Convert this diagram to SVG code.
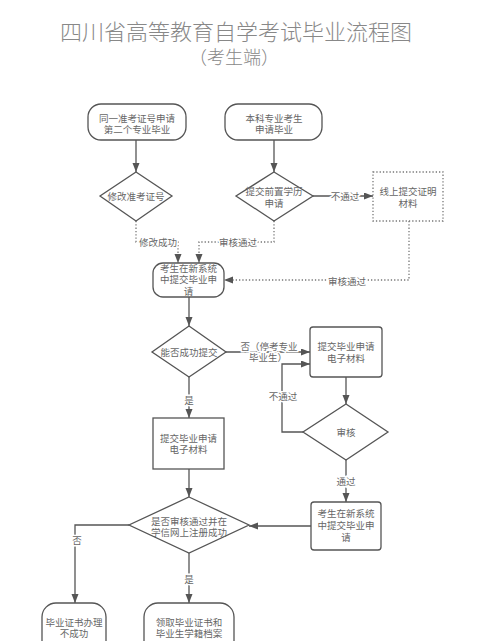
<svg xmlns="http://www.w3.org/2000/svg" width="500" height="641" viewBox="0 0 500 641">
<defs>
<style>
.n{fill:#fff;stroke:#555;stroke-width:1.3}
.d{fill:#fff;stroke:#777;stroke-width:1.3;stroke-dasharray:1.3 2}
.t{font-family:"Liberation Sans","Noto Sans CJK SC",sans-serif;font-size:9.5px;fill:#666;text-anchor:middle}
.lb{font-family:"Liberation Sans","Noto Sans CJK SC",sans-serif;font-size:9.5px;fill:#666;text-anchor:middle;stroke:#fff;stroke-width:3;paint-order:stroke}
.title{font-family:"Liberation Sans","Noto Sans CJK SC",sans-serif;font-weight:300;fill:#888;text-anchor:middle}
.c{fill:none;stroke:#555;stroke-width:1.3}
.cd{fill:none;stroke:#777;stroke-width:1.3;stroke-dasharray:1.3 2}
</style>
<marker id="a" markerUnits="userSpaceOnUse" markerWidth="10" markerHeight="8" refX="9" refY="3.5" orient="auto">
<path d="M0,0 L9,3.5 L0,7 z" fill="#555"/>
</marker>
</defs>
<rect width="500" height="641" fill="#fff"/>
<g id="title">
<text class="title" x="236" y="40" font-size="22">四川省高等教育自学考试毕业流程图</text>
<text class="title" x="234" y="64" font-size="18">（考生端）</text>
</g>
<g id="connectors">
<path class="c" d="M136,140 V172" marker-end="url(#a)"/>
<path class="c" d="M274,140 V172" marker-end="url(#a)"/>
<path class="c" d="M313,196 H373" marker-end="url(#a)"/>
<path class="cd" d="M136,221 V242 H178 V263" marker-end="url(#a)"/>
<path class="cd" d="M274,221 V242 H199 V263" marker-end="url(#a)"/>
<path class="cd" d="M409,221 V280 H224" marker-end="url(#a)"/>
<path class="c" d="M189,297 V326" marker-end="url(#a)"/>
<path class="c" d="M226,352 H310" marker-end="url(#a)"/>
<path class="c" d="M189,377 V418" marker-end="url(#a)"/>
<path class="c" d="M346,377 V404" marker-end="url(#a)"/>
<path class="c" d="M303,432 H282 V364 H310" marker-end="url(#a)"/>
<path class="c" d="M346,460 V502" marker-end="url(#a)"/>
<path class="c" d="M311,526 H249" marker-end="url(#a)"/>
<path class="c" d="M189,469 V497" marker-end="url(#a)"/>
<path class="c" d="M129,525 H75 V603" marker-end="url(#a)"/>
<path class="c" d="M189,553 V603" marker-end="url(#a)"/>
<text class="lb" x="345" y="199.5">不通过</text>
<text class="lb" x="158" y="245.5">修改成功</text>
<text class="lb" x="238" y="245.5">审核通过</text>
<text class="lb" x="347" y="285">审核通过</text>
<text class="lb" x="269" y="350">否（停考专业<tspan x="268" dy="11">毕业生）</tspan></text>
<text class="lb" x="283" y="400">不通过</text>
<text class="lb" x="189" y="403.5">是</text>
<text class="lb" x="346" y="485">通过</text>
<text class="lb" x="77" y="543.5">否</text>
<text class="lb" x="189" y="582.5">是</text>
</g>
<g id="n1"><rect class="n" x="88" y="104" width="98" height="36" rx="13"/>
<text class="t" x="137" y="121.5">同一准考证号申请<tspan x="137" dy="11">第二个专业毕业</tspan></text></g>
<g id="n2"><rect class="n" x="225" y="104" width="97" height="36" rx="13"/>
<text class="t" x="274" y="121.5">本科专业考生<tspan x="274" dy="11">申请毕业</tspan></text></g>
<g id="d1"><polygon class="n" points="136,172 172,196 136,221 100,196"/>
<text class="t" x="136" y="199.5">修改准考证号</text></g>
<g id="d2"><polygon class="n" points="274,172 313,196 274,221 236,196"/>
<text class="t" x="274" y="195">提交前置学历<tspan x="274" dy="11.5">申请</tspan></text></g>
<g id="online"><rect class="d" x="373" y="172" width="70" height="49"/>
<text class="t" x="408" y="195">线上提交证明<tspan x="408" dy="11.5">材料</tspan></text></g>
<g id="n3"><rect class="n" x="153" y="263" width="71" height="34" rx="10"/>
<text class="t" x="188.5" y="271.5">考生在新系统<tspan x="188.5" dy="11.5">中提交毕业申</tspan><tspan x="188.5" dy="11.5">请</tspan></text></g>
<g id="d3"><polygon class="n" points="189,326 226,352 189,377 152,352"/>
<text class="t" x="189" y="355.5">能否成功提交</text></g>
<g id="r1"><rect class="n" x="310" y="327" width="72" height="50" rx="3"/>
<text class="t" x="346" y="350">提交毕业申请<tspan x="346" dy="11.5">电子材料</tspan></text></g>
<g id="d5"><polygon class="n" points="346,404 388,432 346,460 303,432"/>
<text class="t" x="346" y="436">审核</text></g>
<g id="r2"><rect class="n" x="153" y="418" width="71" height="51"/>
<text class="t" x="188.5" y="441.5">提交毕业申请<tspan x="188.5" dy="11.5">电子材料</tspan></text></g>
<g id="r3"><rect class="n" x="311" y="502" width="70" height="48" rx="3"/>
<text class="t" x="346" y="516.5">考生在新系统<tspan x="346" dy="12">中提交毕业申</tspan><tspan x="346" dy="12.5">请</tspan></text></g>
<g id="d4"><polygon class="n" points="189,497 249,525 189,553 129,525"/>
<text class="t" x="189" y="525">是否审核通过并在<tspan x="189" dy="11">学信网上注册成功</tspan></text></g>
<g id="e1"><rect class="n" x="42" y="603" width="64" height="52" rx="14"/>
<text class="t" x="74" y="626">毕业证书办理<tspan x="74" dy="11">不成功</tspan></text></g>
<g id="e2"><rect class="n" x="144" y="603" width="90" height="52" rx="14"/>
<text class="t" x="189" y="626">领取毕业证书和<tspan x="189" dy="11">毕业生学籍档案</tspan></text></g>
</svg>
